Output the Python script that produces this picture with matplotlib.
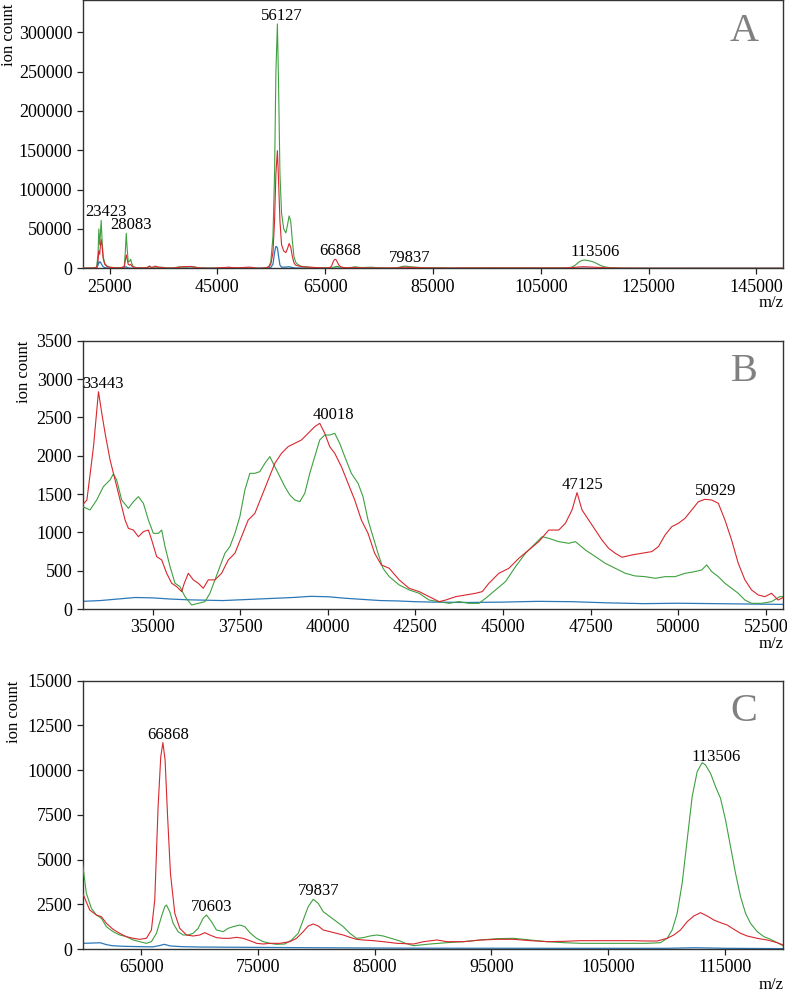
import numpy as np
import matplotlib
matplotlib.use("Agg")
import matplotlib.pyplot as plt

plt.rcParams['font.family'] = ['Liberation Serif', 'DejaVu Serif']

# ---------------- data (m/z, ion count) ----------------
# low-mass region
mz_low = [20000, 22000, 22600, 22850, 23000, 23150, 23300, 23423, 23600, 23800, 24100,
          24500, 25000, 26000, 27000, 27700, 27900, 28083, 28250, 28450, 28700, 28900,
          29100, 29400, 30000, 31000, 32000, 32400, 32700]
green_low = [300, 500, 1500, 20000, 50000, 30000, 45000, 61000, 35000, 15000, 6000,
             3000, 1500, 800, 800, 2000, 20000, 44500, 25000, 8000, 9000, 11500,
             6000, 2000, 800, 600, 1200, 3000, 1200]
red_low = [200, 300, 1000, 10000, 22000, 18000, 30000, 36500, 28000, 12000, 5000,
           2500, 1200, 700, 700, 1500, 10000, 17000, 12000, 5000, 4000, 5000,
           3000, 1500, 700, 500, 900, 2500, 1200]
blue_low = [50, 100, 500, 4000, 8500, 7000, 8000, 6000, 4000, 2000, 800,
            400, 200, 160, 150, 400, 1500, 2000, 1000, 500, 300, 250,
            200, 150, 120, 110, 110, 120, 110]

# middle region
mz_red_mid = [33000, 33120, 33308, 33450, 33545, 33640, 33782, 33925, 34068, 34210, 34305,
              34447, 34590, 34732, 34875, 34970, 35112, 35255, 35397, 35540, 35682, 35825,
              35900, 36015, 36157, 36300, 36442, 36585, 36775, 36965, 37155, 37345, 37535,
              37725, 37915, 38105, 38295, 38485, 38675, 38865, 39055, 39245, 39435, 39625,
              39767, 39910, 40052, 40195, 40385, 40575, 40765, 40955, 41145, 41335, 41525,
              41750, 42034, 42319, 42604, 42888, 43173, 43363, 43648, 43932, 44217, 44407,
              44597, 44881, 45166, 45451, 45736, 46020, 46305, 46590, 46779, 46969, 47112,
              47254, 47444, 47634, 47823, 48013, 48203, 48393, 48677, 48962, 49247, 49436,
              49626, 49816, 50006, 50195, 50385, 50575, 50765, 50955, 51145, 51334, 51524,
              51714, 51904, 52093, 52283, 52473, 52663, 52853]
red_mid = [1357, 1422, 2117, 2835, 2553, 2290, 1944, 1683, 1422, 1161, 1052,
           1030, 943, 1009, 1030, 900, 683, 640, 466, 336, 292, 227,
           336, 466, 380, 336, 270, 380, 380, 466, 640, 727, 943,
           1161, 1248, 1466, 1683, 1900, 2031, 2118, 2161, 2205, 2292, 2379,
           2422, 2292, 2118, 2031, 1857, 1640, 1422, 1161, 987, 727, 575,
           531, 380, 270, 227, 161, 96, 117, 161, 183, 205, 227,
           336, 466, 531, 662, 770, 879, 1030, 1030, 1118, 1292, 1518,
           1292, 1161, 1030, 900, 792, 727, 675, 705, 727, 749, 814,
           966, 1074, 1118, 1183, 1292, 1400, 1431, 1422, 1379, 1161, 900,
           596, 380, 249, 183, 161, 205, 117]

mz_green_mid = [33000, 33209, 33400, 33590, 33780, 33875, 33970, 34112, 34305, 34447, 34590,
                34732, 34875, 35017, 35160, 35255, 35350, 35493, 35635, 35777, 35920, 36110,
                36300, 36490, 36632, 36775, 36917, 37060, 37202, 37345, 37487, 37630, 37772,
                37915, 38057, 38200, 38342, 38485, 38627, 38770, 38912, 39055, 39197, 39340,
                39482, 39625, 39767, 39910, 40052, 40195, 40337, 40480, 40670, 40860, 41002,
                41145, 41287, 41430, 41572, 41750, 42034, 42319, 42604, 42888, 43173, 43458,
                43742, 44027, 44312, 44502, 44786, 45071, 45356, 45641, 45925, 46115, 46305,
                46590, 46874, 47064, 47349, 47634, 47918, 48203, 48488, 48772, 49057, 49342,
                49626, 49911, 50195, 50480, 50670, 50813, 50955, 51145, 51334, 51524, 51714,
                51904, 52093, 52378, 52663, 52900]
green_mid = [1335, 1292, 1422, 1596, 1683, 1762, 1683, 1422, 1313, 1400, 1466,
             1379, 1161, 987, 987, 1030, 814, 553, 336, 292, 161, 52,
             74, 96, 205, 380, 553, 727, 814, 987, 1205, 1553, 1770,
             1770, 1792, 1900, 1988, 1857, 1727, 1596, 1488, 1422, 1400, 1509,
             1770, 1988, 2205, 2270, 2270, 2292, 2161, 1988, 1770, 1640, 1466,
             1161, 943, 727, 531, 422, 314, 249, 205, 117, 96, 74,
             96, 74, 74, 140, 249, 358, 553, 727, 857, 943, 922,
             879, 857, 879, 770, 684, 596, 531, 466, 431, 422, 401,
             422, 422, 466, 488, 509, 575, 488, 422, 336, 270, 205,
             117, 74, 74, 96, 161]

mz_blue_mid = [33000, 33500, 34000, 34500, 35000, 35500, 36000, 36500, 37000, 37500, 38000,
               38500, 39000, 39500, 40000, 40500, 41000, 41500, 42000, 42500, 43000, 44000,
               45000, 46000, 47000, 48000, 49000, 50000, 51000, 52000]
blue_mid = [100, 110, 130, 150, 145, 130, 120, 115, 110, 120, 130,
            140, 150, 165, 160, 140, 125, 110, 105, 95, 90, 85,
            90, 100, 95, 80, 70, 75, 70, 65]

# main peak region
mz_main = [53000, 54000, 54500, 54900, 55300, 55600, 55850, 56127, 56350, 56600, 56900,
           57300, 57700, 58000, 58300, 58600, 58900, 59200, 59500, 59800]
green_main = [161, 800, 2000, 8000, 40000, 120000, 250000, 310500, 230000, 120000, 70000,
              50000, 45000, 55000, 66500, 60000, 35000, 15000, 8000, 5500]
red_main = [150, 600, 1500, 5000, 20000, 60000, 120000, 149500, 110000, 60000, 30000,
            22000, 20000, 25000, 31500, 27000, 15000, 7000, 4000, 3400]
blue_main = [60, 150, 300, 1200, 5000, 20000, 28000, 26000, 15000, 4000, 1500,
             1500, 1500, 1800, 2000, 1500, 1000, 600, 400, 330]

# high-mass region
mz_green_high = [60000, 60314, 60742, 61170, 61600, 62030, 62600, 63171, 63743, 64314, 64886,
                 65457, 65885, 66314, 66743, 67028, 67171, 67457, 67743, 68171, 68600, 69028,
                 69457, 69885, 70314, 70600, 71028, 71457, 72028, 72457, 72885, 73457, 73885,
                 74314, 74886, 75457, 76028, 76599, 77314, 77885, 78457, 78885, 79314, 79742,
                 80171, 80599, 81171, 81742, 82313, 82885, 83456, 84028, 84599, 85171, 85742,
                 86599, 87170, 87700, 88339, 89768, 91196, 92625, 94053, 95482, 96910, 98339,
                 99767, 101196, 102624, 104053, 105481, 106910, 108338, 109481, 110052, 110481,
                 110910, 111338, 111766, 112195, 112624, 113052, 113338, 113767, 114196, 114624,
                 115053, 115481, 115910, 116338, 116767, 117195, 117766, 118338, 118909, 119480,
                 120000]
green_high = [4700, 3113, 2274, 1901, 1715, 1249, 969, 783, 690, 503, 410,
              317, 410, 876, 1808, 2367, 2460, 2087, 1435, 969, 783, 783,
              876, 1156, 1715, 1901, 1528, 1063, 969, 1156, 1249, 1342, 1249,
              913, 597, 410, 317, 261, 280, 503, 876, 1621, 2367, 2777,
              2553, 2087, 1808, 1528, 1249, 876, 597, 634, 727, 783, 727,
              559, 447, 300, 186, 280, 354, 410, 503, 578, 597, 503,
              410, 354, 317, 317, 317, 317, 317, 354, 597, 1063,
              1994, 3672, 6094, 8517, 9915, 10418, 10288, 9822, 9076, 8424,
              7213, 5722, 4231, 2926, 1994, 1435, 969, 690, 541, 354,
              168]

mz_red_high = [60000, 60600, 61170, 61600, 62030, 62600, 63171, 63743, 64314, 64886, 65457,
               65885, 66171, 66457, 66686, 66868, 67057, 67257, 67514, 67886, 68314, 68885,
               69457, 70028, 70457, 70885, 71457, 72028, 72600, 73171, 73743, 74314, 74886,
               75457, 76028, 76885, 77742, 78314, 78885, 79314, 79742, 80171, 80599, 81171,
               81742, 82313, 82885, 83456, 84028, 84885, 85742, 86911, 88339, 89196, 90339,
               91196, 92625, 94053, 95482, 96910, 98339, 99767, 101196, 102624, 104053, 105481,
               106910, 108338, 109195, 110052, 110624, 111195, 111766, 112338, 112909, 113481,
               114052, 114623, 115195, 115766, 116338, 116909, 117766, 118623, 119480, 120000]
red_high = [3113, 2181, 1901, 1808, 1435, 1100, 876, 690, 597, 541, 597,
            1063, 2740, 7958, 10754, 11537, 10568, 7585, 4231, 1994, 1156, 783,
            727, 783, 913, 783, 634, 597, 597, 653, 597, 466, 317,
            280, 317, 317, 410, 597, 969, 1286, 1398, 1286, 1063, 969,
            876, 783, 653, 541, 503, 466, 410, 317, 280, 410, 503,
            410, 410, 503, 541, 541, 466, 410, 429, 466, 466, 466,
            466, 447, 447, 597, 783, 1063, 1528, 1845, 2031, 1845,
            1621, 1472, 1342, 1100, 876, 727, 597, 503, 354, 224]

mz_blue_high = [60000, 60700, 61500, 62000, 62500, 63500, 65000, 66000, 66500, 67000, 67500,
                68500, 70000, 75000, 80000, 85000, 90000, 100000, 110000, 112500, 115000, 120000]
blue_high = [317, 330, 350, 250, 186, 150, 130, 120, 180, 260, 170,
             130, 110, 90, 70, 55, 45, 40, 40, 70, 40, 20]

# tail
mz_tail = [125000, 135000, 150000]
green_tail = [80, 60, 40]
red_tail = [100, 70, 50]
blue_tail = [15, 12, 10]

# peak labels per panel
peaks_a = [23423, 28083, 56127, 66868, 79837, 113506]
peaks_b = [33443, 40018, 47125, 50929]
peaks_c = [66868, 70603, 79837, 113506]

xticks_a = [25000, 45000, 65000, 85000, 105000, 125000, 145000]
yticks_a = [0, 50000, 100000, 150000, 200000, 250000, 300000]
xticks_b = [35000, 37500, 40000, 42500, 45000, 47500, 50000, 52500]
yticks_b = [0, 500, 1000, 1500, 2000, 2500, 3000, 3500]
xticks_c = [65000, 75000, 85000, 95000, 105000, 115000]
yticks_c = [0, 2500, 5000, 7500, 10000, 12500, 15000]

# ---------------- assemble spectra ----------------
green_x = np.concatenate([mz_low, mz_green_mid, mz_main, mz_green_high, mz_tail])
green_y = np.concatenate([green_low, green_mid, green_main, green_high, green_tail])
red_x = np.concatenate([mz_low, mz_red_mid, mz_main, mz_red_high, mz_tail])
red_y = np.concatenate([red_low, red_mid, red_main, red_high, red_tail])
blue_x = np.concatenate([mz_low, mz_blue_mid, mz_main, mz_blue_high, mz_tail])
blue_y = np.concatenate([blue_low, blue_mid, blue_main, blue_high, blue_tail])

C_GREEN = '#3fa03f'
C_RED = '#d8272e'
C_BLUE = '#2b78b8'

W, H = 787, 993
fig = plt.figure(figsize=(W / 100, H / 100), dpi=100)
LEFT, RIGHT, HEIGHT = 82.7, 783.3, 268.3

def axes_px(top_px):
    return [LEFT / W, 1 - (top_px + HEIGHT) / H, (RIGHT - LEFT) / W, HEIGHT / H]

# (rect, xlim, ylim, xticks, yticks, peaks, letter, ylabel right edge px, m/z offset px, ylabel top px)
panels = [
    (axes_px(0.0), (20000, 150000), (0, 341000), xticks_a, yticks_a, peaks_a, 'A', 17, 35, 3.5),
    (axes_px(340.7), (33000, 53000), (0, 3500), xticks_b, yticks_b, peaks_b, 'B', 32, 35, 0),
    (axes_px(680.7), (60000, 120000), (0, 15000), xticks_c, yticks_c, peaks_c, 'C', 22, 36, 0),
]

for rect, xl, yl, xt, yt, peaks, letter, ylab_x, mz_off, ylab_dy in panels:
    ax = fig.add_axes(rect)
    ax.plot(blue_x, blue_y, color=C_BLUE, lw=0.9, zorder=2)
    ax.plot(green_x, green_y, color=C_GREEN, lw=0.8, zorder=3)
    ax.plot(red_x, red_y, color=C_RED, lw=0.8, zorder=4)
    ax.set_xlim(*xl)
    ax.set_ylim(*yl)
    ax.set_xticks(xt)
    ax.set_yticks(yt)
    ax.set_xticklabels([str(v) for v in xt])
    ax.set_yticklabels([str(v) for v in yt])
    ax.tick_params(labelsize=13, length=4, width=0.9, colors='#222222', labelcolor='black')
    for sp in ax.spines.values():
        sp.set_color('#333333')
        sp.set_linewidth(1.0)
    ax.set_ylabel('ion count', loc='top', fontsize=12)
    ax.yaxis.set_label_coords((ylab_x - LEFT) / (RIGHT - LEFT), 1.0 - ylab_dy / HEIGHT)
    ax.annotate('m/z', xy=(1, 0), xycoords='axes fraction', xytext=(0, -mz_off),
                textcoords='offset pixels', ha='right', va='center', fontsize=12)
    ax.text(0.944, 0.849, letter, transform=ax.transAxes, ha='center', va='baseline',
            fontsize=29, color='#808080')
    # peak labels: placed just above the tallest trace near each labelled m/z
    for p in peaks:
        win = 400
        ys = []
        for xs, yv in ((green_x, green_y), (red_x, red_y), (blue_x, blue_y)):
            m = (xs >= p - win) & (xs <= p + win)
            if m.any():
                ys.append(yv[m].max())
        ytop = max(ys)
        ax.annotate(str(p), xy=(p, ytop), xytext=(-16, 4), textcoords='offset pixels',
                    ha='left', va='baseline', fontsize=12, zorder=6)

fig.savefig('out.png', dpi=100)
